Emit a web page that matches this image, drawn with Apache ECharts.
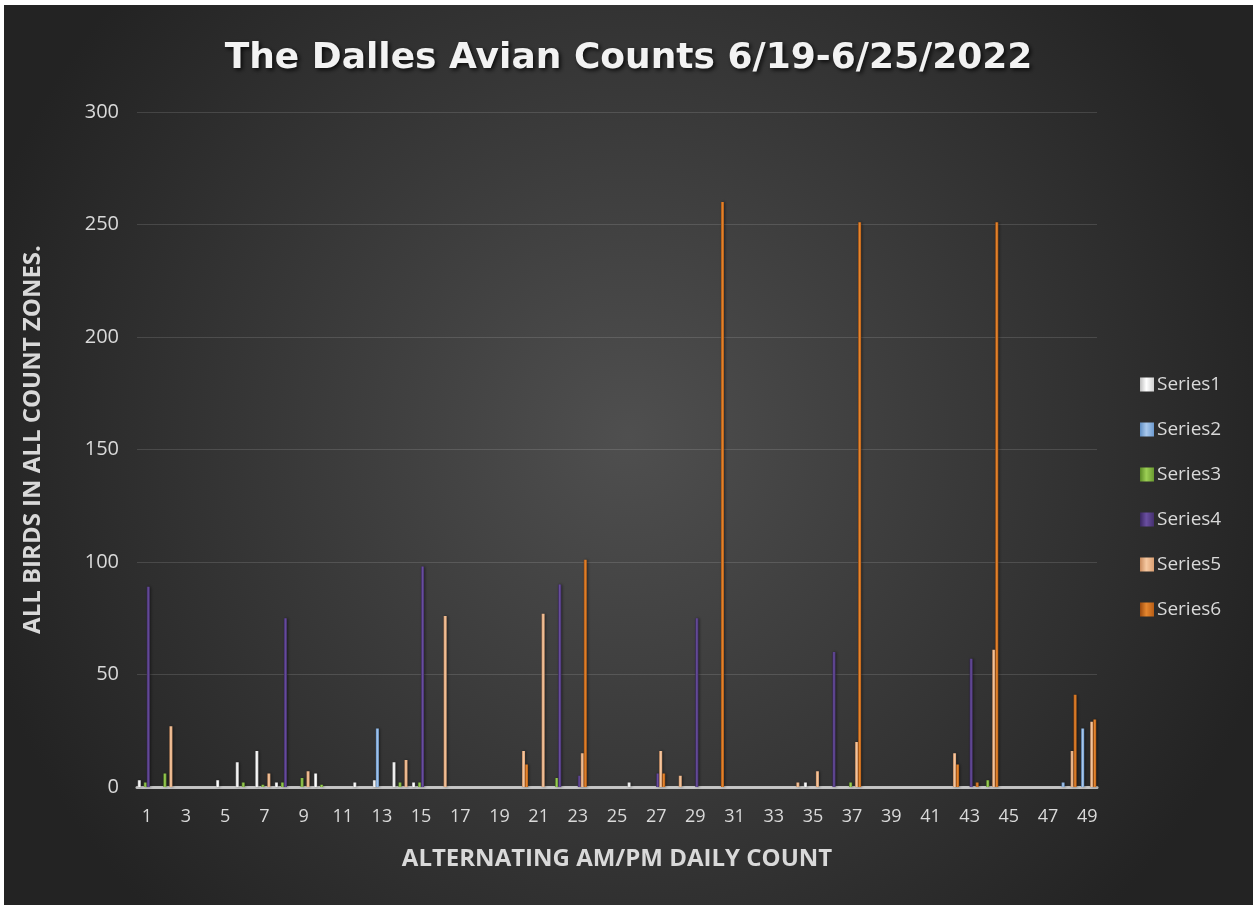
<!DOCTYPE html>
<html>
<head>
<meta charset="utf-8">
<script src="https://cdn.jsdelivr.net/npm/echarts@6/dist/echarts.min.js"></script>
<style>
html,body{margin:0;padding:0;background:#ffffff;}
#chart{position:absolute;left:4px;top:5px;width:1249px;height:900px;}
</style>
</head>
<body>
<div id="chart"></div>
<script>
var categories = [];
for (var c = 1; c <= 49; c++) categories.push(String(c));

// values per category 1..49
var series1 = [3,0,0,0,3,11,16,2,0,6,0,2,3,11,2,0,0,0,0,0,0,0,0,0,0,2,0,0,0,0,0,0,0,0,2,0,0,0,0,0,0,0,0,0,0,0,0,0,0];
var series2 = [0,0,0,0,0,0,0,0,0,0,0,0,26,0,0,0,0,0,0,0,0,0,0,0,0,0,0,0,0,0,0,0,0,0,0,0,0,0,0,0,0,0,0,0,0,0,0,2,26];
var series3 = [2,6,0,0,0,2,1,2,4,1,0,0,0,2,2,0,0,0,0,0,0,4,0,0,0,0,0,0,0,0,0,0,0,0,0,0,2,0,0,0,0,0,0,3,0,0,0,0,0];
var series4 = [89,0,0,0,0,0,0,75,0,0,0,0,0,0,98,0,0,0,0,0,0,90,5,0,0,0,6,0,75,0,0,0,0,0,0,60,0,0,0,0,0,0,57,0,0,0,0,0,0];
var series5 = [0,27,0,0,0,0,6,0,7,0,0,0,0,12,0,76,0,0,0,16,77,0,15,0,0,0,16,5,0,0,0,0,0,2,7,0,20,0,0,0,0,15,0,61,0,0,0,16,29];
var series6 = [0,0,0,0,0,0,0,0,0,0,0,0,0,0,0,0,0,0,0,10,0,0,101,0,0,0,6,0,0,260,0,0,0,0,0,0,251,0,0,0,0,10,2,251,0,0,0,41,30];

var seriesNames = ['Series1','Series2','Series3','Series4','Series5','Series6'];
var seriesData = [series1, series2, series3, series4, series5, series6];
var baseColors = [
  ['#bdbdbd','#ffffff','#d0d0d0'],
  ['#5f8ec4','#a9c8ec','#6d9bd0'],
  ['#5a8a25','#9ccf55','#6a9a30'],
  ['#3a2760','#6a4fa0','#45306f'],
  ['#c98a5c','#f6c9a2','#dca073'],
  ['#9c4a0e','#e5872f','#b85d15']
];

function grad(cs){
  return {type:'linear', x:0, y:0, x2:1, y2:0,
    colorStops:[{offset:0,color:cs[0]},{offset:0.45,color:cs[1]},{offset:1,color:cs[2]}]};
}

var chart = echarts.init(document.getElementById('chart'), null, {renderer:'canvas'});

var series = seriesNames.map(function(n, i){
  return {
    name: n,
    type: 'bar',
    data: seriesData[i],
    barGap: '0%',
    barCategoryGap: '8%',
    itemStyle: {color: grad(baseColors[i]), shadowColor:'rgba(0,0,0,0.5)', shadowBlur:3, shadowOffsetX:1},
    emphasis: {disabled:true}
  };
});

chart.setOption({
  animation: false,
  backgroundColor: {type:'radial', x:0.5, y:0.48, r:0.75,
    colorStops:[{offset:0,color:'#4f4f4f'},{offset:1,color:'#232323'}]},
  title: {
    text: 'The Dalles Avian Counts 6/19-6/25/2022',
    left: 'center', top: 31,
    textStyle: {fontFamily:'DejaVu Sans', fontWeight:'bold', fontSize:36, color:'#f2f2f2',
      textShadowColor:'rgba(0,0,0,0.8)', textShadowBlur:4, textShadowOffsetX:2, textShadowOffsetY:2}
  },
  legend: {
    orient: 'vertical',
    left: 1131, top: 365,
    itemWidth: 14, itemHeight: 14, itemGap: 26,
    icon: 'rect',
    textStyle: {fontFamily:'Open Sans', fontSize:19, color:'#d9d9d9', padding:[0,0,0,-2]},
    data: seriesNames
  },
  grid: {left: 133, right: 156, top: 107, bottom: 118, containLabel:false},
  xAxis: {
    type: 'category',
    data: categories,
    name: 'ALTERNATING AM/PM DAILY COUNT',
    nameLocation: 'middle',
    nameGap: 60,
    nameTextStyle: {fontFamily:'Open Sans', fontWeight:'bold', fontSize:24, color:'#d9d9d9'},
    axisLine: {lineStyle: {color:'rgba(220,220,220,0.85)', width:3}},
    axisTick: {show:false},
    axisLabel: {interval:1, margin:21, fontFamily:'Open Sans', fontSize:18, color:'#d9d9d9'},
    splitLine: {show:false}
  },
  yAxis: {
    type: 'value',
    min: 0, max: 300, interval: 50,
    name: 'ALL BIRDS IN ALL COUNT ZONES.',
    nameLocation: 'middle',
    nameGap: 92,
    nameTextStyle: {fontFamily:'Open Sans', fontWeight:'bold', fontSize:24, color:'#d9d9d9', padding:[0,0,0,20]},
    axisLine: {show:false},
    axisTick: {show:false},
    axisLabel: {margin:18, fontFamily:'Open Sans', fontSize:20, color:'#d9d9d9'},
    splitLine: {lineStyle: {color:'rgba(255,255,255,0.13)', width:1}}
  },
  series: series
});
</script>
</body>
</html>
